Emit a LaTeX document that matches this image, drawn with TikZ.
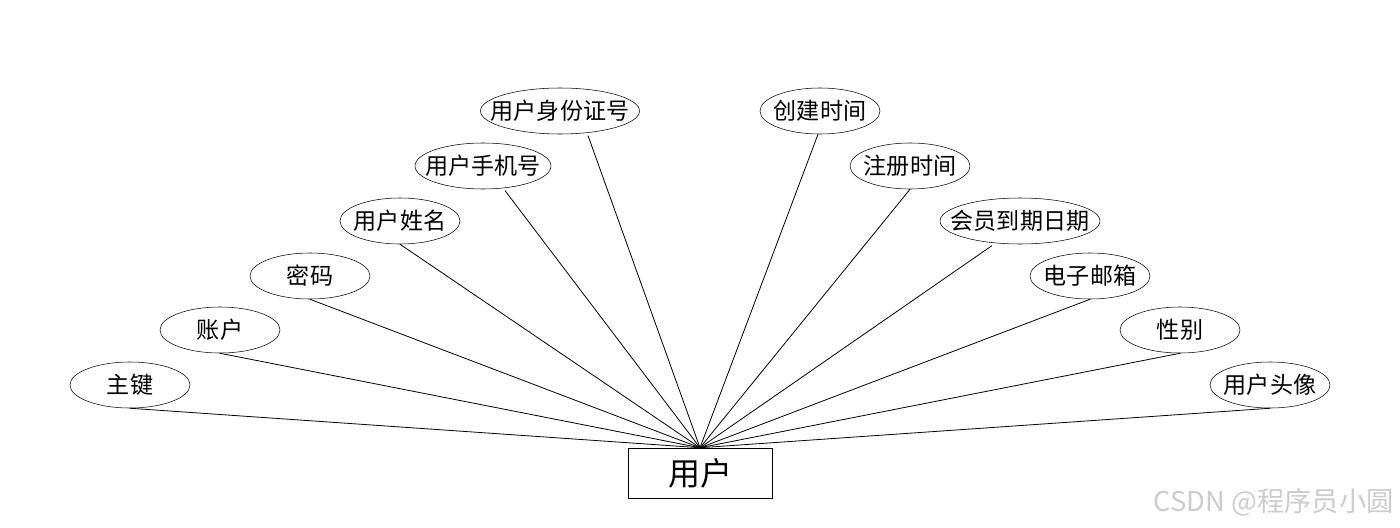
\documentclass[tikz,border=0pt]{standalone}
\usepackage{fontspec}
\setmainfont{Noto Sans CJK SC}
\usetikzlibrary{shapes.geometric}
\begin{document}
\begin{tikzpicture}[x=0.75pt,y=-0.75pt,
  attr/.style={draw,ellipse,minimum width=#1*0.75pt,minimum height=34.5pt,inner sep=0pt},
  attr/.default=120,
  atext/.style={label={[font=\fontsize{17.3}{17.3}\selectfont,inner sep=0pt]center:#1}},
  entity/.style={draw,rectangle,minimum width=108pt,minimum height=37.5pt,inner sep=0pt,font=\fontsize{24}{24}\selectfont},
  link/.style={draw,line width=0.6pt}]
\useasboundingbox (0,0) rectangle (1400,528);
\node[entity] (u) at (700,473) {用户};
\node[attr,atext=主键] (a1) at (130,385) {};
\node[attr,atext=账户] (a2) at (220,330) {};
\node[attr,atext=密码] (a3) at (310,276) {};
\node[attr,atext=用户姓名] (a4) at (400,221) {};
\node[attr=136,atext=用户手机号] (a5) at (483,166) {};
\node[attr=159,atext=用户身份证号] (a6) at (560,111) {};
\node[attr,atext=创建时间] (b1) at (820,111) {};
\node[attr,atext=注册时间] (b2) at (910,166) {};
\node[attr=160,atext=会员到期日期] (b3) at (1020,221) {};
\node[attr,atext=电子邮箱] (b4) at (1090,276) {};
\node[attr,atext=性别] (b5) at (1180,330) {};
\node[attr,atext=用户头像] (b6) at (1270,385) {};
\draw[link] (a1.south) -- (u.north);
\draw[link] (a2.south) -- (u.north);
\draw[link] (a3.south) -- (u.north);
\draw[link] (a4.south) -- (u.north);
\draw[link] ([xshift=16.5pt,yshift=-1pt]a5.south) -- (u.north);
\draw[link] ([xshift=21pt,yshift=-1pt]a6.south) -- (u.north);
\draw[link] ([xshift=-1.5pt]b1.south) -- (u.north);
\draw[link] (b2.south) -- (u.north);
\draw[link] ([xshift=-21pt,yshift=-1pt]b3.south) -- (u.north);
\draw[link] (b4.south) -- (u.north);
\draw[link] (b5.south) -- (u.north);
\draw[link] (b6.south) -- (u.north);
\node[text=black!20,font=\fontsize{20.5}{20.5}\selectfont,anchor=east,inner sep=0pt] (wm) at (1394,502) {CSDN @程序员小圆};
\end{tikzpicture}
\end{document}
